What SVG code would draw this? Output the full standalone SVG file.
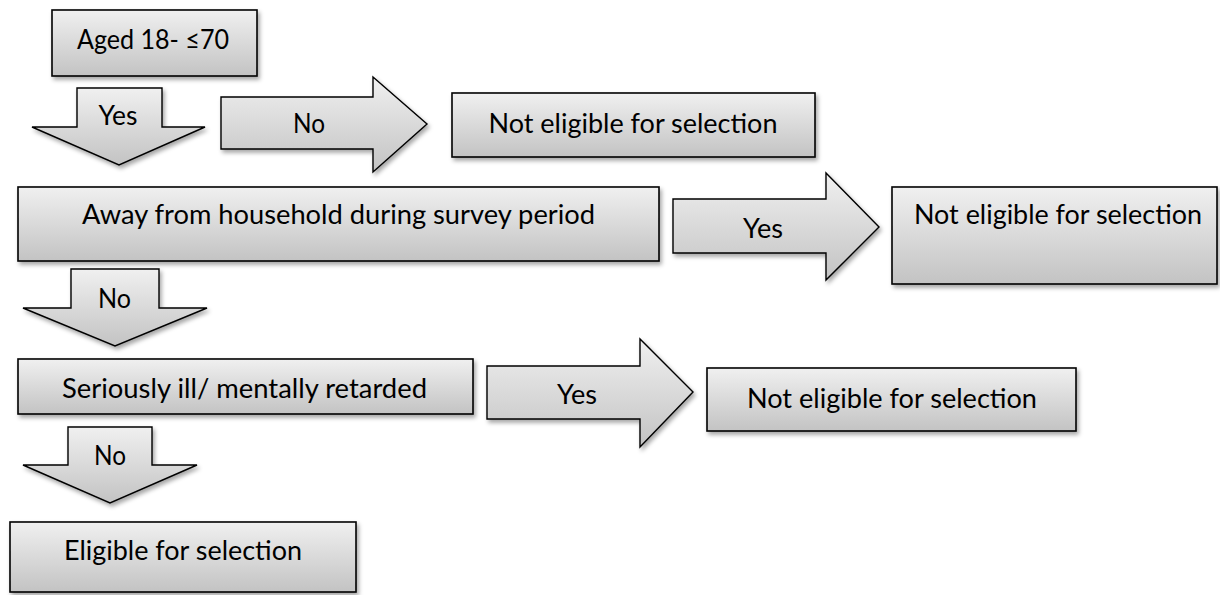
<svg xmlns="http://www.w3.org/2000/svg" width="1220" height="595" viewBox="0 0 1220 595">
<defs>
<linearGradient id="g" x1="0" y1="0" x2="0" y2="1">
<stop offset="0" stop-color="#f0f0f0"/>
<stop offset="1" stop-color="#c3c3c3"/>
</linearGradient>
<filter id="sh" x="-10%" y="-10%" width="130%" height="140%">
<feDropShadow dx="2" dy="3" stdDeviation="2" flood-color="#000" flood-opacity="0.35"/>
</filter>
</defs>
<style>
.box{fill:url(#g);stroke:#000;stroke-width:1.6;filter:url(#sh)}
.arr{fill:url(#g);stroke:#000;stroke-width:1.4;stroke-linejoin:miter;filter:url(#sh)}
text{font-family:Lato,"Open Sans","Liberation Sans",sans-serif;font-size:26px;fill:#000}
.c{text-anchor:middle}
</style>
<rect width="1220" height="595" fill="#fff"/>
<g id="connectors">
<g id="c1">
<polygon class="arr" points="77,88 162,88 162,127 205,127 119,165 32,127 77,127"/>
<text class="c" x="118" y="125" textLength="39" lengthAdjust="spacingAndGlyphs">Yes</text>
</g>
<g id="c2">
<polygon class="arr" points="221,97 373,97 373,77 427,124 373,172 373,149 221,149"/>
<text class="c" x="309" y="133" textLength="32" lengthAdjust="spacingAndGlyphs">No</text>
</g>
<g id="c3">
<polygon class="arr" points="673,199 826,199 826,173 879,227 826,280 826,253 673,253"/>
<text class="c" x="763" y="238" textLength="40" lengthAdjust="spacingAndGlyphs">Yes</text>
</g>
<g id="c4">
<polygon class="arr" points="71,269 159,269 159,308 207,308 115,346 23,308 71,308"/>
<text class="c" x="114.5" y="308" textLength="33" lengthAdjust="spacingAndGlyphs">No</text>
</g>
<g id="c5">
<polygon class="arr" points="487,366 640,366 640,339 693,392 640,447 640,419 487,419"/>
<text class="c" x="577" y="404" textLength="40" lengthAdjust="spacingAndGlyphs">Yes</text>
</g>
<g id="c6">
<polygon class="arr" points="68,427 152,427 152,465 197,465 110,503 23,465 68,465"/>
<text class="c" x="110" y="465" textLength="32" lengthAdjust="spacingAndGlyphs">No</text>
</g>
</g>
<g id="n1">
<rect class="box" x="52" y="10" width="205" height="66"/>
<text class="c" x="153" y="49" textLength="152" lengthAdjust="spacingAndGlyphs">Aged 18- ≤70</text>
</g>
<g id="n2">
<rect class="box" x="452" y="93" width="363" height="64"/>
<text class="c" x="633" y="133" textLength="289" lengthAdjust="spacingAndGlyphs">Not eligible for selection</text>
</g>
<g id="n3">
<rect class="box" x="18" y="187" width="641" height="74"/>
<text class="c" x="338.5" y="224" textLength="513" lengthAdjust="spacingAndGlyphs">Away from household during survey period</text>
</g>
<g id="n4">
<rect class="box" x="892" y="187" width="325" height="97"/>
<text x="914" y="224" textLength="288" lengthAdjust="spacingAndGlyphs">Not eligible for selection</text>
</g>
<g id="n5">
<rect class="box" x="18" y="359" width="455" height="55"/>
<text class="c" x="244.5" y="398" textLength="365" lengthAdjust="spacingAndGlyphs">Seriously ill/ mentally retarded</text>
</g>
<g id="n6">
<rect class="box" x="707" y="368" width="369" height="63"/>
<text class="c" x="892" y="408" textLength="290" lengthAdjust="spacingAndGlyphs">Not eligible for selection</text>
</g>
<g id="n7">
<rect class="box" x="10" y="522" width="346" height="70"/>
<text class="c" x="183" y="560" textLength="238" lengthAdjust="spacingAndGlyphs">Eligible for selection</text>
</g>
</svg>
